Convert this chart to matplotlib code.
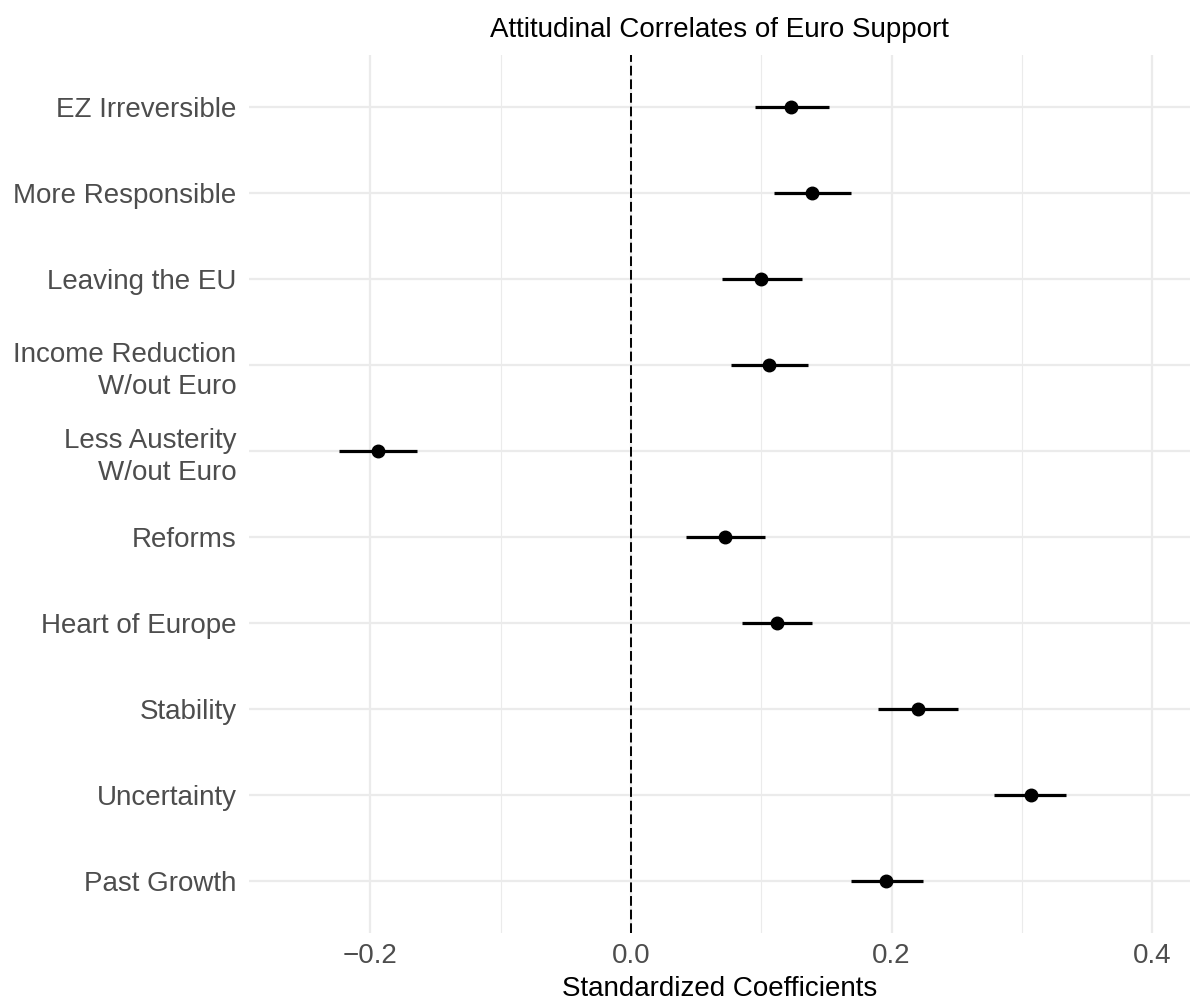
from matplotlib import pyplot as plt
import numpy as np

#%% Coefficients (standardized) with 95% intervals
labels = ["EZ Irreversible", "More Responsible", "Leaving the EU",
          "Income Reduction\nW/out Euro", "Less Austerity\nW/out Euro",
          "Reforms", "Heart of Europe", "Stability", "Uncertainty",
          "Past Growth"]
coef = [0.123, 0.139, 0.100, 0.106, -0.194, 0.072, 0.112, 0.220, 0.307, 0.196]
ci_low = [0.095, 0.110, 0.070, 0.077, -0.224, 0.042, 0.085, 0.190, 0.279, 0.169]
ci_high = [0.152, 0.169, 0.131, 0.136, -0.164, 0.103, 0.139, 0.251, 0.334, 0.224]

plt.rcParams['font.family'] = ['Liberation Sans', 'DejaVu Sans']

# first label on top
y_pos = np.arange(len(labels))[::-1] + 1

fig = plt.figure(figsize=(11.92, 10.02), dpi=100)
ax = fig.add_axes([0.2089, 0.0689, 0.7894, 0.8762])

grid_col = '#EBEBEB'
for x in [-0.2, 0.0, 0.2, 0.4]:
    ax.axvline(x, color=grid_col, lw=1.6, zorder=0)
for x in [-0.1, 0.1, 0.3]:
    ax.axvline(x, color=grid_col, lw=0.8, zorder=0)
for y in y_pos:
    ax.axhline(y, color=grid_col, lw=1.6, zorder=0)

ax.axvline(0, color='black', lw=1.4, dashes=(5, 2), zorder=1)

ax.hlines(y_pos, ci_low, ci_high, color='black', lw=2.3, zorder=2)
ax.plot(coef, y_pos, 'o', color='black', markersize=9, zorder=3)

ax.set_xlim(-0.293, 0.429)
ax.set_ylim(0.4, 10.6)
ax.set_xticks([-0.2, 0.0, 0.2, 0.4])
ax.set_xticklabels(['\u22120.2', '0.0', '0.2', '0.4'])
ax.set_yticks(y_pos)
ax.set_yticklabels(labels, ha='right', linespacing=1.3)
ax.tick_params(axis='both', length=0, labelsize=20, labelcolor='#4D4D4D')
ax.tick_params(axis='y', pad=9)
ax.tick_params(axis='x', pad=7)
for s in ax.spines.values():
    s.set_visible(False)

ax.set_xlabel('Standardized Coefficients', fontsize=20, color='black', labelpad=5)
fig.text(0.6036, 1 - 30 / 1002, 'Attitudinal Correlates of Euro Support',
         fontsize=20, ha='center', va='center', color='black')

plt.savefig('out.png', dpi=100)
